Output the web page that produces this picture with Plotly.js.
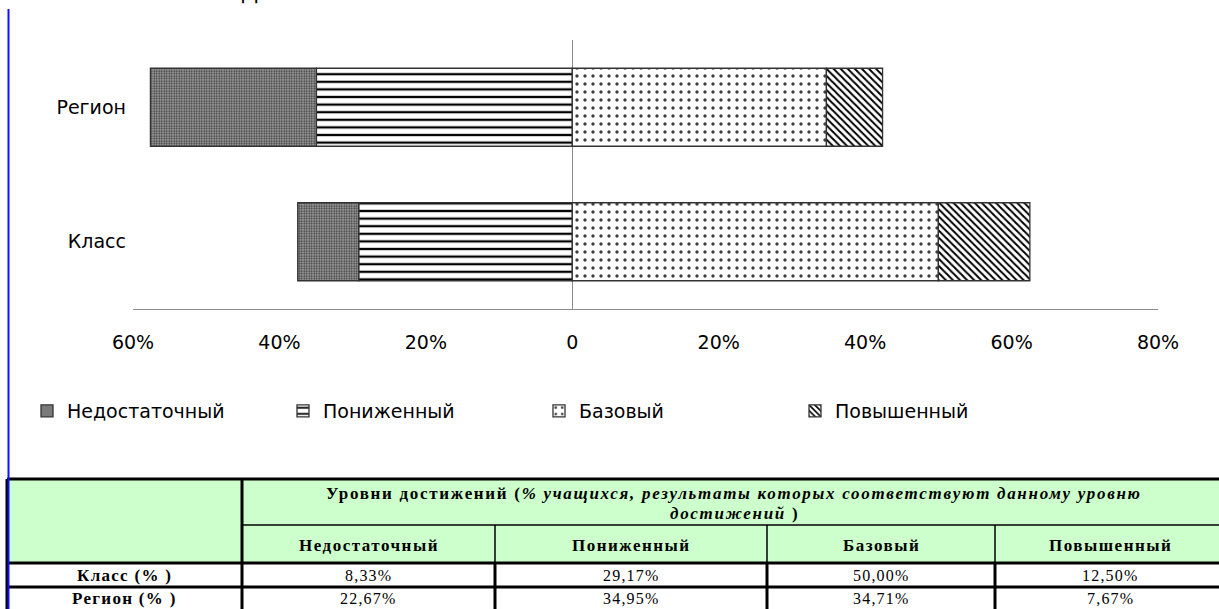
<!DOCTYPE html>
<html>
<head>
<meta charset="utf-8">
<script src="https://cdn.plot.ly/plotly-3.0.1.min.js"></script>
<style>
html,body{margin:0;padding:0;background:#fff;}
#chart{width:1219px;height:609px;}
</style>
</head>
<body>
<div id="chart"></div>
<script>
// ---- data ----
const categories = ['Класс', 'Регион'];
const levelNames = ['Недостаточный', 'Пониженный', 'Базовый', 'Повышенный'];
const nedostatochny = [8.33, 22.67];
const ponizhenny = [29.17, 34.95];
const bazovy = [50.00, 34.71];
const povyshenny = [12.50, 7.67];
const tickVals = [-60, -40, -20, 0, 20, 40, 60, 80];
const tickText = ['60%', '40%', '20%', '0', '20%', '40%', '60%', '80%'];
const tableRowLabels = ['Класс (% )', 'Регион (% )'];
const tableHeaderLine1 = '<b>Уровни достижений (<i>% учащихся, результаты которых соответствуют данному уровню</i></b>';
const tableHeaderLine2 = '<b><i>достижений</i> )</b>';
const topTitleFragment = 'Д';

// ---- geometry helpers (pixel -> paper) ----
const W = 1219, H = 609;
const M = {l: 133, r: 61, t: 40, b: 300};
const PW = W - M.l - M.r, PH = H - M.t - M.b;
const px = x => (x - M.l) / PW;
const py = y => (H - M.b - y) / PH;

const outline = {color: '#333333', width: 1.3};
const barW = 0.58;
const neg = a => a.map(v => -v);

const traces = [
  {type: 'bar', orientation: 'h', name: levelNames[1], y: categories, x: neg(ponizhenny), width: barW,
   legendrank: 2,
   marker: {color: '#ffffff', line: outline,
            pattern: {shape: '-', fgcolor: '#000000', bgcolor: '#ffffff', size: 7.6, solidity: 0.3}}},
  {type: 'bar', orientation: 'h', name: levelNames[0], y: categories, x: neg(nedostatochny), width: barW,
   legendrank: 1,
   marker: {color: '#999999', line: outline,
            pattern: {shape: '.', fgcolor: '#3a3a3a', bgcolor: '#a4a4a4', size: 2.5, solidity: 0.45}}},
  {type: 'bar', orientation: 'h', name: levelNames[2], y: categories, x: bazovy, width: barW,
   legendrank: 3,
   marker: {color: '#ffffff', line: outline,
            pattern: {shape: '.', fgcolor: '#404040', bgcolor: '#ffffff', size: 8, solidity: 0.14}}},
  {type: 'bar', orientation: 'h', name: levelNames[3], y: categories, x: povyshenny, width: barW,
   legendrank: 4,
   marker: {color: '#ffffff', line: outline,
            pattern: {shape: '\\', fgcolor: '#000000', bgcolor: '#ffffff', size: 5, solidity: 0.4}}}
];

// ---- table (shapes + annotations) ----
const shapes = [];
const annotations = [];
const tTop = 479, tHead = 525, tNames = 563, tRow1 = 587, tBottom = 612;
const colX = [7, 242, 495, 767, 995, 1226];
const green = '#ccffcc';
const thick = 3, thin = 1.5;

function rect(x0, y0, x1, y1, fill) {
  shapes.push({type: 'rect', xref: 'paper', yref: 'paper', x0: px(x0), x1: px(x1), y0: py(y1), y1: py(y0),
               fillcolor: fill, line: {width: 0}, layer: 'above'});
}
function line(x0, y0, x1, y1, color, w) {
  shapes.push({type: 'line', xref: 'paper', yref: 'paper', x0: px(x0), x1: px(x1), y0: py(y0), y1: py(y1),
               line: {color: color, width: w}, layer: 'above'});
}
function text(x, y, t, size, spacing) {
  annotations.push({xref: 'paper', yref: 'paper', x: px(x), y: py(y),
    text: '<span style="letter-spacing:' + spacing + 'px">' + t + '</span>', showarrow: false,
    xanchor: 'center', yanchor: 'middle', font: {family: 'Liberation Serif, serif', size: size, color: '#000'}});
}

rect(colX[0], tTop, colX[5], tNames, green);
// horizontal lines
line(colX[0], tTop, colX[5], tTop, '#000', thick);
line(colX[1], tHead, colX[5], tHead, '#000', thin);
line(colX[0], tNames, colX[5], tNames, '#000', thick);
line(colX[0], tRow1, colX[5], tRow1, '#000', thick);
// vertical lines
line(colX[0], tTop, colX[0], tBottom, '#000', thick);
line(colX[1], tTop, colX[1], tBottom, '#000', thick);
for (let i = 2; i <= 4; i++) {
  line(colX[i], tHead, colX[i], tNames, '#000', thin);
  line(colX[i], tNames, colX[i], tBottom, '#000', thick);
}
const headCenter = (colX[1] + colX[5]) / 2;
text(headCenter, 493, tableHeaderLine1, 17, 1.7);
text(headCenter, 513, tableHeaderLine2, 17, 1.7);
for (let i = 0; i < 4; i++) {
  const cx = (colX[i + 1] + colX[i + 2]) / 2;
  text(cx, 545, '<b>' + levelNames[i] + '</b>', 17, 1.5);
}
const fmt = v => v.toFixed(2).replace('.', ',') + '%';
const series = [nedostatochny, ponizhenny, bazovy, povyshenny];
const rowY = [575, 599];
for (let r = 0; r < 2; r++) {
  text((colX[0] + colX[1]) / 2, rowY[r], '<b>' + tableRowLabels[r] + '</b>', 17, 1.3);
  for (let i = 0; i < 4; i++) {
    const cx = (colX[i + 1] + colX[i + 2]) / 2;
    text(cx, rowY[r], fmt(series[i][r]), 16, 1.2);
  }
}
// blue margin line
line(8.5, 9, 8.5, 612, '#1010ff', 2);
// cut-off title fragment at the very top
annotations.push({xref: 'paper', yref: 'paper', x: px(249), y: py(-8), text: topTitleFragment, showarrow: false,
  xanchor: 'center', yanchor: 'middle', borderpad: 0,
  font: {family: 'DejaVu Sans, sans-serif', size: 22, color: '#000'}});

const layout = {
  width: W, height: H,
  margin: M,
  paper_bgcolor: '#ffffff', plot_bgcolor: '#ffffff',
  barmode: 'relative',
  showlegend: true,
  font: {family: 'DejaVu Sans, sans-serif', size: 19, color: '#000'},
  xaxis: {range: [-60, 80], tickmode: 'array', tickvals: tickVals, ticktext: tickText,
          showgrid: false, zeroline: true, zerolinecolor: '#8c8c8c', zerolinewidth: 1,
          showline: true, linecolor: '#8c8c8c', linewidth: 1, ticks: '', ticklabelstandoff: 16,
          tickfont: {size: 19, family: 'DejaVu Sans, sans-serif'}, fixedrange: true},
  yaxis: {type: 'category', categoryorder: 'array', categoryarray: categories, range: [-0.5, 1.5],
          showgrid: false, zeroline: false, showline: false, ticks: '', ticklabelstandoff: 6,
          tickfont: {size: 19, family: 'DejaVu Sans, sans-serif'}, fixedrange: true},
  legend: {orientation: 'h', xref: 'container', yref: 'container', x: 27 / W, y: (H - 411) / H,
           xanchor: 'left', yanchor: 'middle', entrywidth: 211, entrywidthmode: 'pixels',
           traceorder: 'normal', font: {size: 19, family: 'DejaVu Sans, sans-serif'}, bgcolor: 'rgba(0,0,0,0)'},
  shapes: shapes,
  annotations: annotations
};

Plotly.newPlot('chart', traces, layout, {displayModeBar: false, staticPlot: true});
</script>
</body>
</html>
